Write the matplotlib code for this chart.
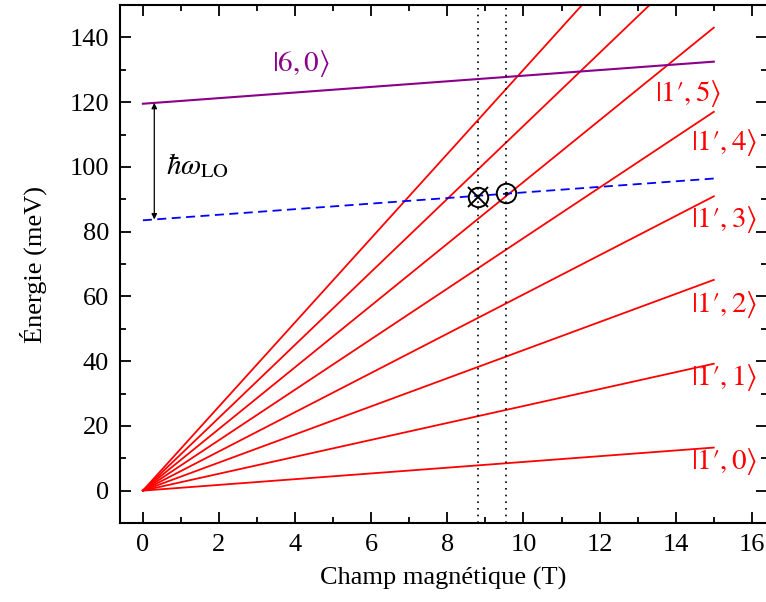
import numpy as np
import matplotlib
matplotlib.use("Agg")
import matplotlib.pyplot as plt
from matplotlib.ticker import MultipleLocator

plt.rcParams['font.family'] = ['Liberation Serif', 'DejaVu Serif']
plt.rcParams['mathtext.fontset'] = 'stix'
plt.rcParams['font.size'] = 19

# data
b_field = [0, 15]                                    # T
landau_end = [13.3, 39.2, 65.1, 90.9, 117.0, 143.0, 169.0, 195.0]  # meV at 15 T, |1',n>
level60 = [119.5, 132.5]                              # |6,0>
lo_line = [83.5, 96.4]                                # |6,0> - hw_LO
b_cross = [8.8, 9.55]
e_cross = [90.8, 92.0]
labels_1 = [r"$|1′,0\rangle$", r"$|1′,1\rangle$", r"$|1′,2\rangle$",
            r"$|1′,3\rangle$", r"$|1′,4\rangle$", r"$|1′,5\rangle$"]
label_x = [14.4, 14.4, 14.4, 14.4, 14.4, 13.45]
label_y = [9.1, 34.8, 57.5, 83.7, 107.4, 122.6]

fig = plt.figure(figsize=(7.66, 6.02), dpi=100)
ax = fig.add_axes([0.1567, 0.1312, 0.8447, 0.8605])

for e in landau_end:
    ax.plot(b_field, [0, e], color='#ff0000', lw=1.3)
ax.plot(b_field, level60, color='#8b008b', lw=1.5)
ax.plot(b_field, lo_line, color='#0000ff', lw=1.3, ls=(0, (5, 3)))

for b in b_cross:
    ax.axvline(b, color='black', ls=(0, (1, 3)), lw=1.2)

# crossing markers
ax.plot(b_cross[0], e_cross[0], 'o', mfc='none', mec='black', ms=14, mew=1.4)
ax.plot(b_cross[0], e_cross[0], 'x', color='black', ms=15, mew=1.4)
ax.plot(b_cross[1], e_cross[1], 'o', mfc='none', mec='black', ms=14, mew=1.4)
ax.plot(b_cross[1], e_cross[1], '.', color='black', ms=3)

# hbar omega_LO arrow
xa = 0.3
ya_top = level60[0] + (level60[1] - level60[0]) * xa / 15
ya_bot = lo_line[0] + (lo_line[1] - lo_line[0]) * xa / 15
ax.annotate('', xy=(xa, ya_top), xytext=(xa, ya_bot),
            arrowprops=dict(arrowstyle='<|-|>', color='black', lw=0.9,
                            mutation_scale=8, shrinkA=0, shrinkB=0))
ax.text(0.62, 100.5, r"$\hbar\omega_{\mathrm{LO}}$", fontsize=21, va='center', ha='left')

ax.text(4.15, 132, r"$|6,0\rangle$", color='#8b008b', fontsize=21, ha='center', va='center')
for t, lx, ly in zip(labels_1, label_x, label_y):
    ax.text(lx, ly, t, color='#ff0000', fontsize=21, ha='left', va='center')

ax.set_xlim(-0.6, 16.4)
ax.set_ylim(-10, 150)
ax.xaxis.set_major_locator(MultipleLocator(2))
ax.xaxis.set_minor_locator(MultipleLocator(1))
ax.yaxis.set_major_locator(MultipleLocator(20))
ax.yaxis.set_minor_locator(MultipleLocator(10))
ax.tick_params(which='both', direction='in', top=True, right=True, width=1.3)
ax.tick_params(which='major', length=8, pad=8)
ax.tick_params(which='minor', length=4)
for s in ax.spines.values():
    s.set_linewidth(1.5)

ax.set_xlabel("Champ magnétique (T)", labelpad=8)
ax.set_ylabel("Énergie (meV)", labelpad=16)

fig.savefig("out.png", dpi=100)
